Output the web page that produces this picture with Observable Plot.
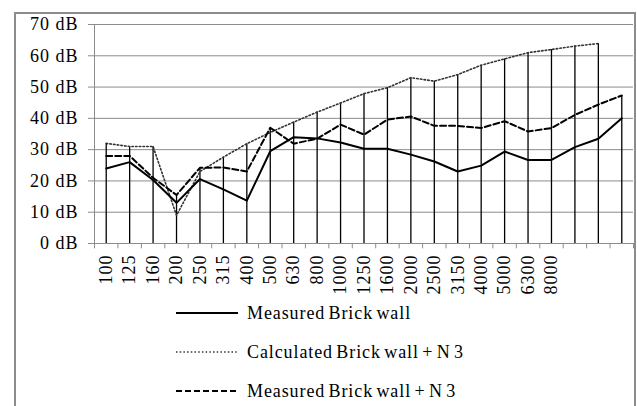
<!DOCTYPE html>
<html>
<head>
<meta charset="utf-8">
<script src="https://cdn.jsdelivr.net/npm/d3@7"></script>
<script src="https://cdn.jsdelivr.net/npm/@observablehq/plot@0.6"></script>
<style>
  html, body { margin: 0; padding: 0; background: #fff; overflow: hidden; }
  body { width: 637px; height: 406px; position: relative; font-family: "Liberation Serif", "Times New Roman", serif; }
  #frame { position: absolute; left: 14px; top: 12px; width: 618px; height: 430px; border: 2px solid #8c8c8c; box-sizing: content-box; }
  #chart { position: absolute; left: 0; top: 0; }
  #chart svg text { letter-spacing: 1px; }
  .lg { position: absolute; left: 176px; height: 20px; display: flex; align-items: center; font-size: 18px; letter-spacing: 0.9px; word-spacing: -2px; color: #000; white-space: nowrap; }
  .lg svg { margin-right: 9px; }
</style>
</head>
<body>
<div id="frame"></div>
<div id="chart"></div>
<div class="lg" style="top:303px"><svg width="62" height="6"><line x1="0" x2="62" y1="3" y2="3" stroke="#000" stroke-width="2"/></svg>Measured Brick wall</div>
<div class="lg" style="top:342px"><svg width="62" height="6"><line x1="0" x2="62" y1="3" y2="3" stroke="#333" stroke-width="1.5" stroke-dasharray="1.5,2.2"/></svg>Calculated Brick wall + N 3</div>
<div class="lg" style="top:381px"><svg width="62" height="6"><line x1="0" x2="62" y1="3" y2="3" stroke="#000" stroke-width="2" stroke-dasharray="6,3"/></svg>Measured Brick wall + N 3</div>
<script>
// Frequency band labels (Hz); the chart has 23 bands, only the first 20 are labelled
const freqLabels = ["100","125","160","200","250","315","400","500","630","800","1000","1250","1600","2000","2500","3150","4000","5000","6300","8000"];
const bandCount = 23;
const yTicks = [0, 10, 20, 30, 40, 50, 60, 70];

const measuredBrick = [24, 26, 20.3, 13, 20.6, 17.3, 13.7, 29.5, 34, 33.6, 32.3, 30.3, 30.3, 28.4, 26.2, 23, 24.9, 29.4, 26.7, 26.7, 30.8, 33.5, 40];
const calculatedN3 = [32, 31, 31, 9, 23, 27.6, 31.9, 35.5, 38.8, 42, 44.9, 47.9, 49.8, 53, 51.9, 54, 57, 59, 61, 62, 63.1, 63.9, null];
const measuredN3 = [28, 28, 21, 15.5, 24.2, 24.3, 23, 37, 31.9, 33.5, 38, 34.8, 39.6, 40.6, 37.6, 37.6, 36.9, 39.1, 35.8, 36.9, 41.1, 44.4, 47.3];

const idx = d3.range(bandCount);
const rows = (arr) => idx.filter(i => arr[i] != null).map(i => ({x: i + 0.5, y: arr[i]}));
const drops = idx.map(i => ({x: i + 0.5, y: d3.max([measuredBrick[i], calculatedN3[i], measuredN3[i]].filter(v => v != null))}));
const gray = "#8c8c8c";

const plot = Plot.plot({
  width: 637,
  height: 300,
  marginLeft: 94,
  marginRight: 4,
  marginTop: 24,
  marginBottom: 57,
  style: {fontFamily: "Liberation Serif, Times New Roman, serif", fontSize: "18px", background: "transparent", color: "#000"},
  x: {type: "linear", domain: [0, bandCount], axis: null, label: null},
  y: {domain: [0, 70], axis: null, label: null},
  marks: [
    Plot.gridY(yTicks, {stroke: gray, strokeOpacity: 1, strokeWidth: 1}),
    Plot.ruleX([0], {stroke: gray, strokeWidth: 1}),
    Plot.ruleY([0], {stroke: gray, strokeWidth: 1}),
    Plot.ruleX(d3.range(bandCount + 1), {x: d => d, y1: 0, y2: -1.7, stroke: gray}),
    Plot.axisY(yTicks, {label: null, tickSize: 6, tickPadding: 10, stroke: gray, fill: "#000", tickFormat: d => `${d} dB`, fontSize: 18}),
    Plot.axisX(freqLabels.map((_, i) => i + 0.5), {label: null, tickSize: 0, tickPadding: 11, tickRotate: -90, fill: "#000", tickFormat: d => freqLabels[d - 0.5], fontSize: 18}),
    Plot.ruleX(drops, {x: "x", y1: 0, y2: "y", stroke: "#000", strokeWidth: 1.3}),
    Plot.line(rows(calculatedN3), {x: "x", y: "y", stroke: "#333", strokeWidth: 1.6, strokeDasharray: "1.5,2.2"}),
    Plot.line(rows(measuredN3), {x: "x", y: "y", stroke: "#000", strokeWidth: 2, strokeDasharray: "6,3"}),
    Plot.line(rows(measuredBrick), {x: "x", y: "y", stroke: "#000", strokeWidth: 2})
  ]
});
document.getElementById("chart").appendChild(plot);
</script>
</body>
</html>
